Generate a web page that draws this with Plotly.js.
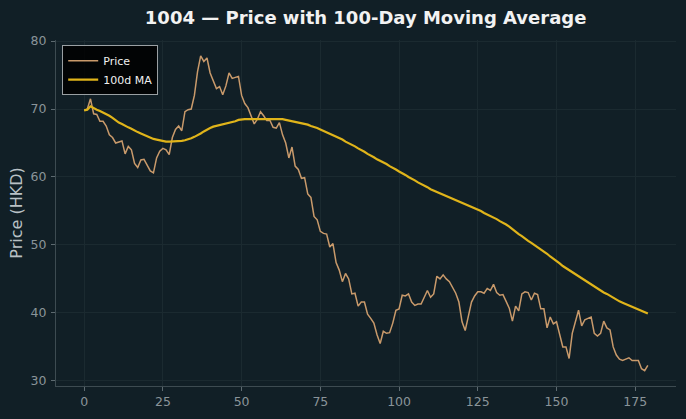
<!DOCTYPE html>
<html>
<head>
<meta charset="utf-8">
<script src="https://cdn.plot.ly/plotly-3.0.1.min.js"></script>
<style>html,body{margin:0;padding:0;background:#111f26;}#chart{width:686px;height:419px;}</style>
</head>
<body>
<div id="chart"></div>
<script>
const days = Array.from({length: 180}, (_, i) => i);
const price = [
69.8,70.0,71.5,69.3,69.2,68.2,68.2,67.5,66.2,65.8,
65.0,65.2,65.3,63.4,64.5,64.0,62.0,61.4,62.5,62.6,
61.8,60.9,60.6,62.8,63.8,64.2,64.0,63.3,65.8,67.0,
67.5,66.8,69.6,69.9,70.0,72.0,75.5,77.8,77.0,77.5,
75.3,74.2,73.0,73.3,72.1,73.4,75.3,74.5,74.7,74.8,
72.0,70.8,70.2,69.0,67.8,68.5,69.6,69.0,68.3,68.3,
67.3,67.2,68.0,66.2,65.0,62.8,64.4,61.6,61.1,59.8,
59.9,57.5,57.0,54.2,53.7,52.0,51.7,51.6,49.7,50.2,
47.4,46.3,44.6,45.8,45.0,42.8,42.9,41.0,41.6,41.6,
39.8,39.2,38.5,36.8,35.5,37.3,37.0,37.1,38.5,40.4,
40.6,42.6,42.5,42.8,41.6,41.1,41.3,41.3,42.3,43.3,
42.3,42.8,45.4,45.0,45.6,45.0,44.6,43.8,42.9,41.6,
38.7,37.4,39.5,41.6,42.5,43.1,43.1,42.9,43.6,43.3,
44.2,43.0,42.6,42.7,41.7,40.7,38.8,41.0,40.3,42.8,
43.1,43.0,41.9,42.9,42.7,40.6,40.6,37.8,39.4,38.4,
38.7,36.6,35.0,35.0,33.3,37.0,38.8,40.4,38.1,39.0,
39.2,39.4,37.0,36.6,37.0,38.8,37.8,37.5,35.0,33.8,
33.2,33.0,33.2,33.4,33.0,33.0,33.0,31.8,31.5,32.3
];
const ma100 = [
69.8,69.9,70.4,70.1,69.9,69.7,69.5,69.3,69.0,68.7,
68.3,68.0,67.8,67.5,67.3,67.1,66.8,66.6,66.4,66.2,
65.9,65.7,65.6,65.5,65.4,65.2,65.2,65.2,65.2,65.3,
65.3,65.3,65.4,65.5,65.7,65.9,66.1,66.4,66.7,67.0,
67.2,67.4,67.5,67.6,67.7,67.8,68.0,68.1,68.2,68.4,
68.5,68.5,68.5,68.5,68.5,68.5,68.6,68.6,68.6,68.6,
68.5,68.5,68.5,68.5,68.4,68.3,68.3,68.2,68.1,68.0,
67.8,67.7,67.5,67.4,67.2,67.0,66.8,66.6,66.4,66.2,
66.0,65.7,65.5,65.2,65.0,64.7,64.5,64.2,64.0,63.7,
63.4,63.2,62.9,62.6,62.4,62.1,61.9,61.6,61.4,61.1,
60.8,60.6,60.3,60.0,59.8,59.5,59.2,59.0,58.7,58.5,
58.2,58.0,57.8,57.6,57.4,57.3,57.1,56.9,56.7,56.5,
56.3,56.1,55.8,55.6,55.4,55.2,55.0,54.7,54.5,54.3,
54.1,53.8,53.5,53.3,53.0,52.7,52.3,52.0,51.6,51.3,
50.9,50.6,50.3,50.0,49.7,49.4,49.0,48.7,48.3,48.0,
47.6,47.3,46.9,46.6,46.2,45.9,45.6,45.3,45.0,44.7,
44.4,44.2,43.9,43.6,43.3,43.0,42.8,42.5,42.2,42.0,
41.7,41.5,41.3,41.1,40.9,40.7,40.5,40.3,40.1,39.9
];
const xTicks = [0,25,50,75,100,125,150,175];
const yTicks = [30,40,50,60,70,80];

const traces = [
  {x: days, y: price, type: 'scatter', mode: 'lines', name: 'Price',
   line: {color: '#c99a6b', width: 1.5}},
  {x: days, y: ma100, type: 'scatter', mode: 'lines', name: '100d MA',
   line: {color: '#e0b41a', width: 2.2}}
];
const axisCommon = {
  showgrid: true, gridcolor: '#1b2a30', gridwidth: 1,
  zeroline: false, showline: true, linecolor: '#3d4b51', linewidth: 1,
  ticks: 'outside', ticklen: 4, tickcolor: '#5d6a70', tickwidth: 1,
  tickfont: {family: 'DejaVu Sans', size: 12.5, color: '#8a9499'},
  mirror: false
};
const layout = {
  width: 686, height: 419,
  paper_bgcolor: '#111f26', plot_bgcolor: '#111f26',
  margin: {l: 56, r: 10, t: 40, b: 33},
  font: {family: 'DejaVu Sans', color: '#c8cdd0'},
  title: {text: '<b>1004 — Price with 100-Day Moving Average</b>',
          font: {family: 'DejaVu Sans', size: 18, color: '#f2f2f2'},
          x: 0.533, xanchor: 'center', y: 0.957, yanchor: 'middle'},
  xaxis: Object.assign({}, axisCommon, {range: [-8.95, 187.95], tickvals: xTicks, ticktext: xTicks.map(String)}),
  yaxis: Object.assign({}, axisCommon, {range: [29.25, 80.15], tickvals: yTicks, ticktext: yTicks.map(String),
          ticklabelstandoff: 2,
          title: {text: 'Price (HKD)', font: {family: 'DejaVu Sans', size: 16, color: '#b9c1c5'}, standoff: 3}}),
  showlegend: true,
  legend: {x: 0.01, y: 0.985, xanchor: 'left', yanchor: 'top',
           bgcolor: 'rgba(0,0,0,0.85)', bordercolor: '#9aa0a3', borderwidth: 1,
           font: {family: 'DejaVu Sans', size: 11, color: '#f0f0f0'},
           tracegroupgap: 0}
};
Plotly.newPlot('chart', traces, layout, {displayModeBar: false, staticPlot: true});
</script>
</body>
</html>
